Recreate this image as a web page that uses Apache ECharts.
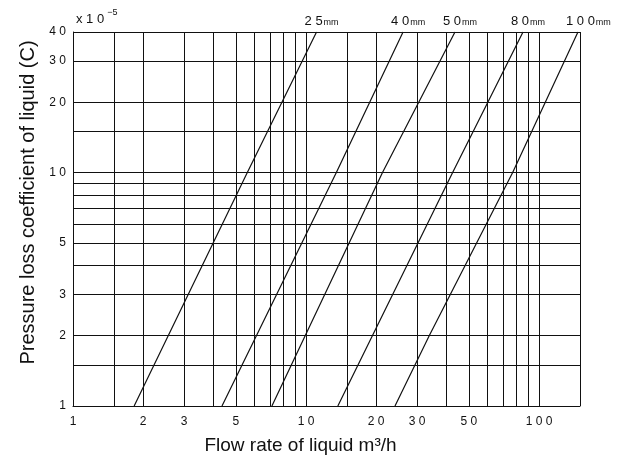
<!DOCTYPE html>
<html>
<head>
<meta charset="utf-8">
<script src="https://cdn.jsdelivr.net/npm/echarts@6/dist/echarts.min.js"></script>
<style>
html,body{margin:0;padding:0;background:#fff;}
#chart{width:618px;height:461px;}
</style>
</head>
<body>
<div id="chart"></div>
<script>
// Pipe sizes (mm) and their lines: [flow rate m3/h, C (x10^-5)]
const pipeSizes = ['25', '40', '50', '80', '100'];
const line25 = [[1.83, 1], [5.6, 10], [11.1, 40]];
const line40 = [[4.36, 1], [13.5, 10], [26.1, 40]];
const line50 = [[7.14, 1], [21.3, 10], [43.6, 40]];
const line80 = [[13.7, 1], [42.6, 10], [85.4, 40]];
const line100 = [[24.1, 1], [33.8, 2], [77.1, 10], [147, 40]];
const lines = [line25, line40, line50, line80, line100];

// Axis grid positions and tick labels
const xGridValues = [1, 1.5, 2, 3, 4, 5, 6, 7, 8, 9, 10, 15, 20, 30, 40, 50, 60, 70, 80, 90, 100, 150];
const yGridValues = [1, 1.5, 2, 3, 4, 5, 6, 7, 8, 9, 10, 15, 20, 30, 40];
const xTickLabels = [1, 2, 3, 5, 10, 20, 30, 50, 100];
const yTickLabels = [1, 2, 3, 5, 10, 20, 30, 40];

const spaced = v => String(v).split('').join(' ');

const chart = echarts.init(document.getElementById('chart'), null, {renderer: 'canvas'});
const font = 'Liberation Sans, Arial, sans-serif';

chart.setOption({
  backgroundColor: '#fff',
  animation: false,
  grid: {left: 73, right: 38, top: 32, bottom: 55, show: false},
  title: {
    text: '{a|x 1 0}{b|−5}',
    left: 71, top: 3,
    textStyle: {
      fontWeight: 'normal',
      rich: {
        a: {fontFamily: font, fontSize: 13, fontWeight: 'normal', color: '#111', lineHeight: 18, verticalAlign: 'bottom'},
        b: {fontFamily: font, fontSize: 9, fontWeight: 'normal', color: '#111', lineHeight: 18, verticalAlign: 'top', padding: [0, 0, 0, 3]}
      }
    }
  },
  xAxis: {
    type: 'log', logBase: 10, min: 1, max: 150,
    name: 'Flow rate of liquid m³/h',
    nameLocation: 'middle', nameGap: 30,
    nameTextStyle: {fontFamily: font, fontSize: 19, color: '#111', padding: [0, 52, 0, 0]},
    axisLine: {show: true, lineStyle: {color: '#111', width: 1}},
    axisTick: {show: false, customValues: xGridValues},
    axisLabel: {customValues: xTickLabels, formatter: v => spaced(v), fontFamily: font, fontSize: 12, color: '#111', margin: 10},
    splitLine: {show: true, lineStyle: {color: '#111', width: 1}}
  },
  yAxis: {
    type: 'log', logBase: 10, min: 1, max: 40,
    name: 'Pressure loss coefficient of liquid (C)',
    nameLocation: 'middle', nameGap: 34, nameRotate: 90,
    nameTextStyle: {fontFamily: font, fontSize: 20, color: '#111', padding: [0, 0, 0, 33]},
    axisLine: {show: true, lineStyle: {color: '#111', width: 1}},
    axisTick: {show: false, customValues: yGridValues},
    axisLabel: {customValues: yTickLabels, formatter: v => spaced(v), fontFamily: font, fontSize: 12, color: '#111', margin: 7},
    splitLine: {show: true, lineStyle: {color: '#111', width: 1}}
  },
  series: lines.map((pts, i) => ({
    type: 'line',
    name: pipeSizes[i] + 'mm',
    symbol: 'circle',
    symbolSize: 0,
    showSymbol: true,
    clip: false,
    lineStyle: {color: '#111', width: 1.2},
    itemStyle: {color: '#111'},
    labelLayout: {hideOverlap: false},
    data: pts.map((p, j) => j === pts.length - 1 ? {
      value: p,
      label: {
        show: true, position: [-12, -4], align: 'left', verticalAlign: 'bottom',
        formatter: '{n|' + spaced(pipeSizes[i]) + '}{u|mm}',
        rich: {
          n: {fontFamily: font, fontSize: 13, color: '#111', lineHeight: 14, verticalAlign: 'bottom'},
          u: {fontFamily: font, fontSize: 9, color: '#111', lineHeight: 9, verticalAlign: 'bottom', padding: [0, 0, 1, 1]}
        }
      }
    } : p)
  }))
});
</script>
</body>
</html>
